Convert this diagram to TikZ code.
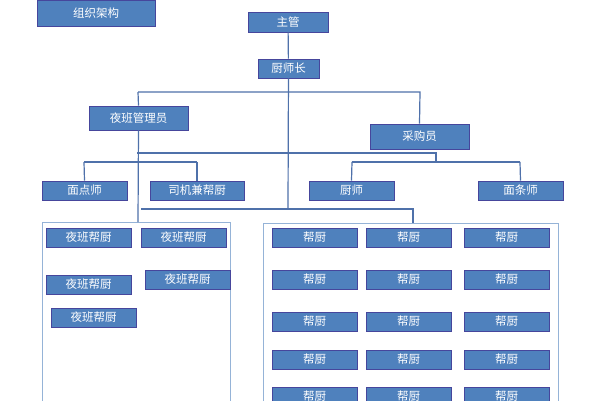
\documentclass[tikz,border=0pt]{standalone}
\usepackage{fontspec}
\newfontfamily\cjk{Noto Sans CJK SC}
\begin{document}
\begin{tikzpicture}[x=1pt,y=-1pt,
  bx/.style={draw=black!25!blue!45!gray, line width=0.9pt, fill={rgb,255:red,79;green,129;blue,189}, text=white, font=\cjk\fontsize{11.5}{12}\selectfont, inner sep=0pt, anchor=center},
  ln/.style={draw={rgb,255:red,79;green,113;blue,170}, line width=1.2pt},
  ct/.style={draw={rgb,255:red,149;green,179;blue,215}, line width=1pt}]
\useasboundingbox (0,0) rectangle (600,400);
\clip (0,0) rectangle (600,400);
\fill[white] (0,0) rectangle (600,400);
% containers
\draw[ct] (42,222) rectangle (230,410);
\draw[ct] (263,223) rectangle (558,410);
% connectors
\coordinate (ja) at (138,92); \coordinate (jb) at (420,92);
\coordinate (jc) at (138,222); \coordinate (jd) at (141,209); \coordinate (je) at (413,209); \coordinate (jf) at (413,223);
\coordinate (jg) at (137,153); \coordinate (jh) at (436,153); \coordinate (ji) at (436,162);
\coordinate (jj) at (352,162); \coordinate (jk) at (520,162);
\coordinate (jl) at (84,162); \coordinate (jm) at (197,162);
\coordinate (jn) at (288,209);
\node[bx, minimum width=118, minimum height=26] (org) at (96,13) {组织架构};
\node[bx, minimum width=80, minimum height=20] (zg) at (288,22) {主管};
\node[bx, minimum width=61, minimum height=19] (csz) at (288.5,68.5) {厨师长};
\node[bx, minimum width=99, minimum height=24] (ybg) at (138.5,118) {夜班管理员};
\node[bx, minimum width=99, minimum height=25] (cgy) at (419.5,136.5) {采购员};
\node[bx, minimum width=85, minimum height=19] (mds) at (84.5,190.5) {面点师};
\node[bx, minimum width=94, minimum height=19] (sj) at (197,190.5) {司机兼帮厨};
\node[bx, minimum width=85, minimum height=19] (cs) at (351.5,190.5) {厨师};
\node[bx, minimum width=85, minimum height=19] (mts) at (520.5,190.5) {面条师};
\draw[ln] (zg) -- (csz);
\draw[ln] (csz) -- (jn);
\draw[ln] (ja) -- (jb) -- (cgy.north);
\draw[ln] (ja) -- (ybg.north);
\draw[ln] (ybg.south) -- (jc);
\draw[ln] (jg) -- (jh) -- (ji);
\draw[ln] (jj) -- (jk);
\draw[ln] (jj) -- (cs.north); \draw[ln] (jk) -- (mts.north);
\draw[ln] (jl) -- (jm); \draw[ln] (jl) -- (mds.north); \draw[ln] (jm) -- (sj.north);
\draw[ln] (jd) -- (je) -- (jf);
% left group
\node[bx, minimum width=85, minimum height=19] (l1) at (88.5,237.5) {夜班帮厨};
\node[bx, minimum width=85, minimum height=19] (l2) at (183.5,237.5) {夜班帮厨};
\node[bx, minimum width=85, minimum height=19] (l3) at (88.5,284.5) {夜班帮厨};
\node[bx, minimum width=85, minimum height=19] (l4) at (187.5,279.5) {夜班帮厨};
\node[bx, minimum width=85, minimum height=19] (l5) at (93.5,317.5) {夜班帮厨};
% right grid
\foreach \r/\yy in {1/237.5,2/279.5,3/321.5,4/359.5,5/396.5}{
  \foreach \c/\xx in {1/314.5,2/408.5,3/506.5}{
    \node[bx, minimum width=85, minimum height=19] (h\r\c) at (\xx,\yy) {帮厨};
  }
}
\end{tikzpicture}
\end{document}
